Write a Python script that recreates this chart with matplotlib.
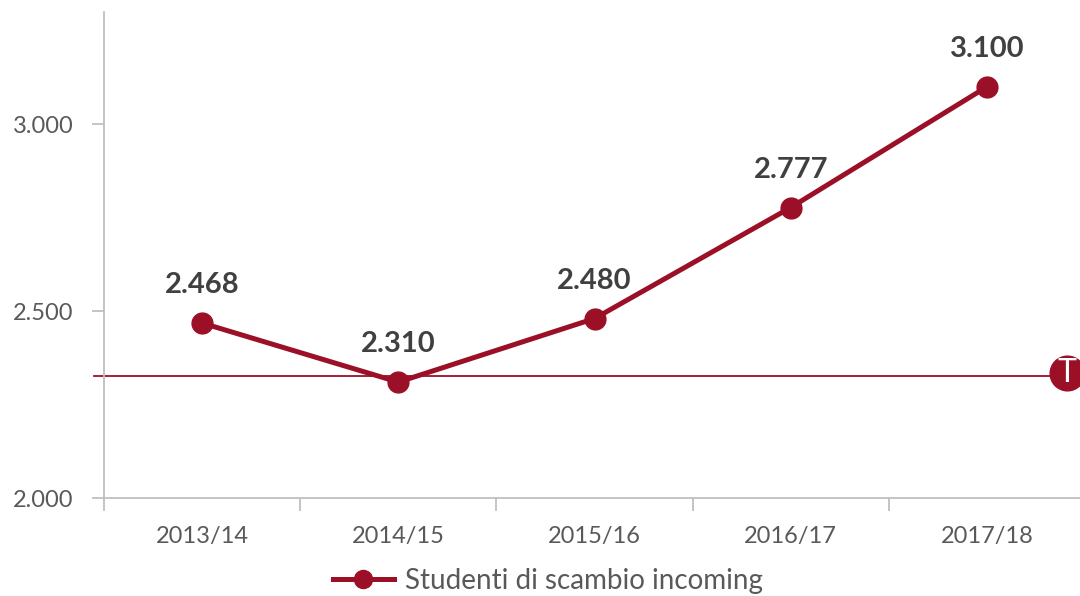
import matplotlib.pyplot as plt
from matplotlib.lines import Line2D

plt.rcParams['font.family'] = ['Lato', 'DejaVu Sans']

years = ['2013/14', '2014/15', '2015/16', '2016/17', '2017/18']
students = [2468, 2310, 2480, 2777, 3100]
labels = ['2.468', '2.310', '2.480', '2.777', '3.100']
yticks = [2000, 2500, 3000]
ytick_labels = ['2.000', '2.500', '3.000']
target = 2326

red = '#9b1027'
grey = '#bfbfbf'

fig = plt.figure(figsize=(10.8, 5.96), dpi=100)
ax = fig.add_axes([104/1080, 1 - 498/596, 981/1080, 486/596])

x = list(range(len(years)))
ax.plot(x, students, color=red, linewidth=3.6, marker='o', markersize=15,
        solid_capstyle='round', zorder=3)

for xi, yi, lab in zip(x, students, labels):
    ax.annotate(lab, (xi, yi), xytext=(0, 18), textcoords='offset points',
                ha='center', va='bottom', fontsize=21, fontweight='bold',
                color='#404040')

ax.set_xlim(-0.5, 4.5)
ax.set_ylim(2000, 3300)

# target line with T marker
ax.plot([-0.55, 4.4], [target, target], color=red, linewidth=1.3,
        clip_on=False, zorder=2)
ax.plot([4.41], [target + 8], marker='o', markersize=25, color=red,
        clip_on=False, zorder=4)
ax.text(4.41, target + 8, 'T', ha='center', va='center', color='white',
        fontsize=23, clip_on=False, zorder=5)

ax.set_yticks(yticks)
ax.set_yticklabels(ytick_labels)
ax.set_xticks(x)
ax.set_xticklabels(years)
ax.set_xticks([i - 0.5 for i in range(len(years) + 1)], minor=True)
ax.tick_params(axis='x', which='major', length=0, pad=20, labelsize=17,
               labelcolor='#595959')
ax.tick_params(axis='x', which='minor', length=9, width=1.3, color=grey)
ax.tick_params(axis='y', length=9, width=1.3, color=grey, labelsize=17,
               labelcolor='#595959', pad=13)

for s in ['top', 'right']:
    ax.spines[s].set_visible(False)
for s in ['left', 'bottom']:
    ax.spines[s].set_color(grey)
    ax.spines[s].set_linewidth(1.3)

handle = Line2D([], [], color=red, linewidth=3.6, marker='o', markersize=13)
fig.legend([handle], ['Studenti di scambio incoming'], loc='center',
           bbox_to_anchor=(0.507, 1 - 581/596), frameon=False, fontsize=20,
           labelcolor='#595959', handlelength=2.2, handletextpad=0.4)

fig.savefig('out.png', dpi=100)
